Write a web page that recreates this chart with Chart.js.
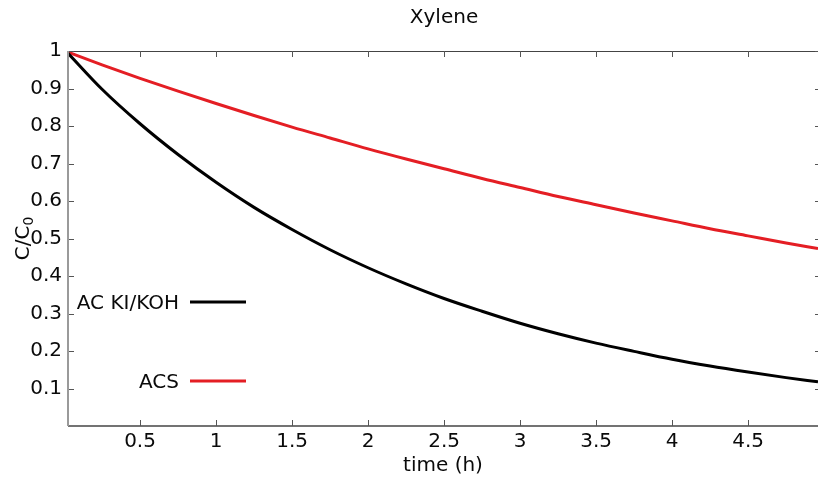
<!DOCTYPE html>
<html>
<head>
<meta charset="utf-8">
<script src="https://cdn.jsdelivr.net/npm/chart.js@4/dist/chart.umd.min.js"></script>
<style>
  html, body { margin: 0; padding: 0; background: #ffffff; overflow: hidden; }
  #wrap { width: 818px; height: 483px; }
</style>
</head>
<body>
<div id="wrap"><canvas id="c" width="818" height="483"></canvas></div>
<script>
// ---- data ----
const timeH = [0.026, 0.25, 0.5, 0.75, 1.0, 1.25, 1.5, 1.75, 2.0, 2.25, 2.5, 2.75, 3.0, 3.25, 3.5, 3.75, 4.0, 4.25, 4.5, 4.75, 4.96];
const acKiKoh = [0.994, 0.898, 0.806, 0.724, 0.650, 0.583, 0.524, 0.470, 0.422, 0.379, 0.340, 0.306, 0.274, 0.246, 0.221, 0.199, 0.178, 0.160, 0.144, 0.129, 0.118];
const acs     = [0.997, 0.963, 0.927, 0.893, 0.860, 0.828, 0.797, 0.768, 0.739, 0.712, 0.686, 0.660, 0.636, 0.612, 0.590, 0.568, 0.547, 0.526, 0.507, 0.488, 0.473];
const seriesNames = ['AC KI/KOH', 'ACS'];
const xTicks = [0.5, 1, 1.5, 2, 2.5, 3, 3.5, 4, 4.5];
const yTicks = [0.1, 0.2, 0.3, 0.4, 0.5, 0.6, 0.7, 0.8, 0.9, 1];
const chartTitle = 'Xylene';
const xTitle = 'time (h)';
const yTitleMain = 'C/C';
const yTitleSub = '0';

const FONT = '"DejaVu Sans", Verdana, sans-serif';
const TEXT = '#0a0a0a';
const RED = 'rgb(228,30,36)';

const pts = (ys) => timeH.map((t, i) => ({ x: t, y: ys[i] }));

const framePlugin = {
  id: 'frame',
  afterDatasetsDraw(chart) {
    const { ctx, chartArea: a, scales: { x, y } } = chart;
    ctx.save();
    // top border
    ctx.strokeStyle = '#444';
    ctx.lineWidth = 1;
    ctx.beginPath(); ctx.moveTo(a.left, a.top + 0.5); ctx.lineTo(a.right, a.top + 0.5); ctx.stroke();
    // bottom axis
    ctx.lineWidth = 1.5;
    ctx.beginPath(); ctx.moveTo(a.left, a.bottom); ctx.lineTo(a.right, a.bottom); ctx.stroke();
    // inward ticks
    ctx.lineWidth = 1;
    ctx.strokeStyle = '#555';
    xTicks.forEach(v => {
      const px = Math.round(x.getPixelForValue(v)) + 0.5;
      ctx.beginPath(); ctx.moveTo(px, a.bottom); ctx.lineTo(px, a.bottom - 6); ctx.stroke();
      ctx.beginPath(); ctx.moveTo(px, a.top); ctx.lineTo(px, a.top + 6); ctx.stroke();
    });
    yTicks.forEach(v => {
      const py = Math.round(y.getPixelForValue(v)) + 0.5;
      ctx.beginPath(); ctx.moveTo(a.left, py); ctx.lineTo(a.left + 6, py); ctx.stroke();
      ctx.beginPath(); ctx.moveTo(a.right, py); ctx.lineTo(a.right - 3, py); ctx.stroke();
    });
    // left axis (grey, thicker)
    ctx.strokeStyle = '#9a9a9a';
    ctx.lineWidth = 2;
    ctx.beginPath(); ctx.moveTo(a.left, a.top); ctx.lineTo(a.left, a.bottom); ctx.stroke();

    // title
    ctx.fillStyle = TEXT;
    ctx.font = '20px ' + FONT;
    ctx.textAlign = 'center';
    ctx.textBaseline = 'alphabetic';
    ctx.fillText(chartTitle, (a.left + a.right) / 2 + 1, 23);

    // y title with subscript
    ctx.save();
    ctx.translate(29, (a.top + a.bottom) / 2);
    ctx.rotate(-Math.PI / 2);
    ctx.font = '20px ' + FONT;
    const w1 = ctx.measureText(yTitleMain).width;
    ctx.font = '14px ' + FONT;
    const w2 = ctx.measureText(yTitleSub).width;
    const sx = -(w1 + w2) / 2;
    ctx.textAlign = 'left';
    ctx.font = '20px ' + FONT;
    ctx.fillText(yTitleMain, sx, 0);
    ctx.font = '14px ' + FONT;
    ctx.fillText(yTitleSub, sx + w1, 4);
    ctx.restore();

    // legend (inside plot, left)
    const colors = [chart.data.datasets[0].borderColor, chart.data.datasets[1].borderColor];
    const legY = [302, 381];
    ctx.font = '20px ' + FONT;
    ctx.textAlign = 'right';
    seriesNames.forEach((n, i) => {
      ctx.fillStyle = TEXT;
      ctx.fillText(n, a.left + 111, legY[i] + 7);
      ctx.strokeStyle = colors[i];
      ctx.lineWidth = 3;
      ctx.beginPath(); ctx.moveTo(a.left + 122, legY[i]); ctx.lineTo(a.left + 178, legY[i]); ctx.stroke();
    });
    ctx.restore();
  }
};

new Chart(document.getElementById('c'), {
  type: 'line',
  data: {
    datasets: [
      { label: seriesNames[0], data: pts(acKiKoh), borderColor: '#000000', borderWidth: 3, pointRadius: 0, cubicInterpolationMode: 'monotone', fill: false },
      { label: seriesNames[1], data: pts(acs), borderColor: RED, borderWidth: 3, pointRadius: 0, cubicInterpolationMode: 'monotone', fill: false }
    ]
  },
  options: {
    responsive: false,
    devicePixelRatio: 1,
    animation: false,
    events: [],
    layout: { padding: { top: 51, right: 0, left: 0, bottom: 0 } },
    plugins: { legend: { display: false }, title: { display: false }, tooltip: { enabled: false } },
    scales: {
      x: {
        type: 'linear',
        min: 0.026,
        max: 4.96,
        afterBuildTicks: (s) => { s.ticks = xTicks.map(v => ({ value: v })); },
        afterFit: (s) => { s.height = 57; },
        grid: { display: false, drawTicks: false },
        border: { display: false },
        ticks: { autoSkip: false, maxRotation: 0, padding: 4, color: TEXT, font: { family: FONT, size: 20 }, callback: (v) => String(v) },
        title: { display: true, text: xTitle, color: TEXT, font: { family: FONT, size: 20 }, padding: { top: 0, bottom: 5 } }
      },
      y: {
        type: 'linear',
        min: 0,
        max: 1,
        afterBuildTicks: (s) => { s.ticks = yTicks.map(v => ({ value: v })); },
        afterFit: (s) => { s.width = 68; },
        grid: { display: false, drawTicks: false },
        border: { display: false },
        ticks: { autoSkip: false, padding: 6, color: TEXT, font: { family: FONT, size: 20 }, callback: (v) => String(v) }
      }
    }
  },
  plugins: [framePlugin]
});
</script>
</body>
</html>
